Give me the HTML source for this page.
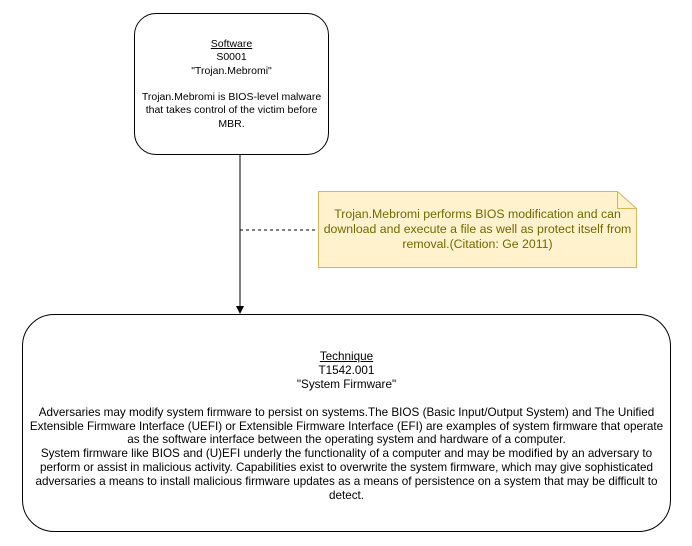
<!DOCTYPE html>
<html><head><meta charset="utf-8"><style>
body{margin:0;width:692px;height:546px;background:#fff;position:relative;font-family:"Liberation Sans",Arial,sans-serif;overflow:hidden}
.b{position:absolute;box-sizing:border-box;border:1px solid #000;background:#fff}
.t{position:absolute;left:0;right:0;text-align:center;white-space:nowrap;color:#000}
</style></head><body>
<svg width="692" height="546" style="position:absolute;left:0;top:0">
<line x1="240" y1="155" x2="240" y2="308" stroke="#000" stroke-width="1"/>
<polygon points="236,306 244,306 240,314" fill="#000"/>
<line x1="240" y1="230" x2="318" y2="230" stroke="#000" stroke-dasharray="3,3"/>
<path d="M318.5 191.5 H617.5 L636.5 208.5 V267.5 H318.5 Z" fill="#fff2cc" stroke="#d6b656"/>
<path d="M617.5 191.5 V208.5 H636.5" fill="none" stroke="#d6b656"/>
</svg>
<div class="b" style="left:134px;top:13px;width:195px;height:142px;border-radius:22px">
<div class="t" style="top:24px;font-size:10.5px;line-height:13.3px">
<u>Software</u><br>S0001<br>"Trojan.Mebromi"<br><br>Trojan.Mebromi is BIOS-level malware<br>that takes control of the victim before<br>MBR.</div>
</div>
<div class="t" style="left:318px;width:319px;right:auto;top:207px;font-size:12.3px;line-height:15px;color:#6b6b00">Trojan.Mebromi performs BIOS modification and can<br>download and execute a file as well as protect itself from<br>removal.(Citation: Ge 2011)</div>
<div class="b" style="left:22px;top:314px;width:649px;height:218px;border-radius:32px">
<div class="t" style="top:35px;font-size:11.7px;line-height:13.9px">
<u>Technique</u><br>T1542.001<br>"System Firmware"<br><br>Adversaries may modify system firmware to persist on systems.The BIOS (Basic Input/Output System) and The Unified<br>Extensible Firmware Interface (UEFI) or Extensible Firmware Interface (EFI) are examples of system firmware that operate<br>as the software interface between the operating system and hardware of a computer.<br>System firmware like BIOS and (U)EFI underly the functionality of a computer and may be modified by an adversary to<br>perform or assist in malicious activity. Capabilities exist to overwrite the system firmware, which may give sophisticated<br>adversaries a means to install malicious firmware updates as a means of persistence on a system that may be difficult to<br>detect.</div>
</div>
</body></html>
